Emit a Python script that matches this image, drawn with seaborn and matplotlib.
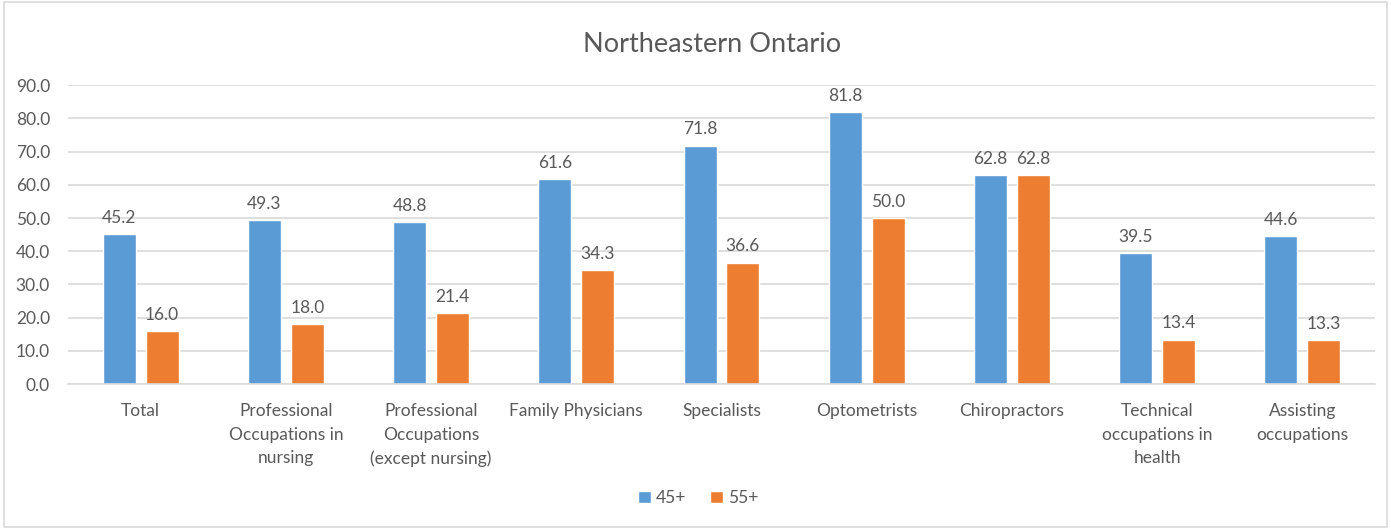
import pandas as pd
import matplotlib
matplotlib.use("Agg")
import matplotlib.pyplot as plt
import seaborn as sns
from matplotlib.patches import Rectangle

categories = ["Total", "Professional\nOccupations in\nnursing", "Professional\nOccupations\n(except nursing)",
              "Family Physicians", "Specialists", "Optometrists", "Chiropractors",
              "Technical\noccupations in\nhealth", "Assisting\noccupations"]
values_45 = [45.2, 49.3, 48.8, 61.6, 71.8, 81.8, 62.8, 39.5, 44.6]
values_55 = [16.0, 18.0, 21.4, 34.3, 36.6, 50.0, 62.8, 13.4, 13.3]
series = ["45+", "55+"]
colors = ["#5B9BD5", "#ED7D31"]
yticks = [0, 10, 20, 30, 40, 50, 60, 70, 80, 90]

df = pd.DataFrame({
    "category": categories * 2,
    "group": [series[0]] * len(categories) + [series[1]] * len(categories),
    "value": values_45 + values_55,
})

sns.set_style("white")
plt.rcParams["font.family"] = ["Lato", "DejaVu Sans"]
text_color = "#595959"
fs = 12.5

fig = plt.figure(figsize=(13.91, 5.29), dpi=100)
ax = fig.add_axes([0.0489, 0.274, 0.9396, 0.565])

sns.barplot(data=df, x="category", y="value", hue="group", palette=colors,
            width=0.59, gap=0.23, saturation=1, ax=ax, legend=True)

for cont in ax.containers:
    ax.bar_label(cont, fmt="%.1f", padding=6, fontsize=fs, color=text_color)

ax.set_ylim(0, 90)
ax.set_yticks(yticks)
ax.set_yticklabels([f"{v:.1f}" for v in yticks], fontsize=fs, color=text_color)
ax.set_xticks(range(len(categories)))
ax.set_xticklabels(categories, fontsize=fs, color=text_color, linespacing=1.55)
ax.tick_params(axis="y", length=0, pad=13)
ax.tick_params(axis="x", length=0, pad=14)
ax.yaxis.grid(True, color="#D9D9D9", linewidth=1.2)
ax.set_axisbelow(True)
for side in ["top", "right", "left"]:
    ax.spines[side].set_visible(False)
ax.spines["bottom"].set_color("#D9D9D9")
ax.spines["bottom"].set_linewidth(1.2)
ax.set_xlabel("")
ax.set_ylabel("")
ax.set_xlim(-0.5, len(categories) - 0.5)

handles, labels = ax.get_legend_handles_labels()
ax.legend(handles, labels, loc="center", bbox_to_anchor=(0.502, 0.058),
          bbox_transform=fig.transFigure, ncol=2, frameon=False,
          fontsize=fs, labelcolor=text_color, handlelength=0.7, handleheight=0.7,
          handletextpad=0.3, columnspacing=1.4)

fig.text(0.512, 0.915, "Northeastern Ontario", ha="center", va="center",
         fontsize=19.5, color=text_color)

fig.patches.append(Rectangle((0.003, 0.004), 0.994, 0.992, transform=fig.transFigure,
                             fill=False, edgecolor="#D9D9D9", linewidth=1.2))

fig.savefig("out.png", dpi=100)
